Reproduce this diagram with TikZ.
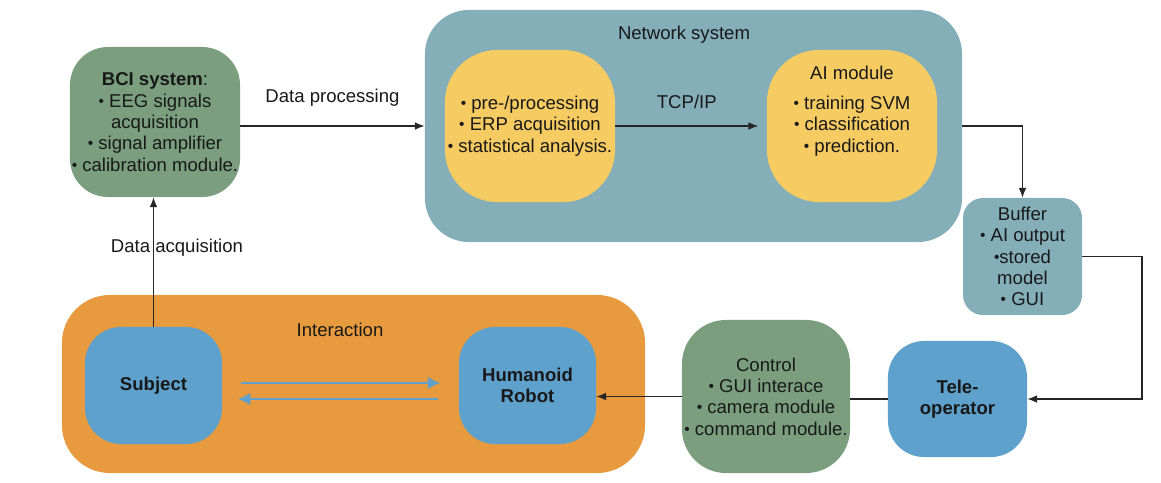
\documentclass[tikz,border=0pt]{standalone}
\usepackage{fontspec}
\setmainfont{Liberation Sans}
\usepackage{tikz}
\usetikzlibrary{positioning, calc, arrows.meta}
\definecolor{sagegreen}{RGB}{122,158,126}
\definecolor{slateteal}{RGB}{132,174,184}
\definecolor{mustard}{RGB}{245,203,98}
\definecolor{amber}{RGB}{232,154,63}
\definecolor{skyblue}{RGB}{95,161,205}
\newcommand{\itemdot}{\raisebox{.1ex}{\fontsize{11}{11}\selectfont\textbullet}}

\begin{document}
\begin{tikzpicture}[x=0.025cm, y=-0.025cm,
	every node/.style={font=\fontsize{13.2}{15.2}\selectfont, align=center, text=black!90},
	heavy/.style={font=\fontsize{13.2}{15.2}\selectfont\bfseries},
	box/.style={inner sep=0pt, rounded corners=1cm},
	link/.style={line width=0.9pt, black!85, -{Latex[length=7pt,width=5.5pt]}},
	wire/.style={line width=0.9pt, black!85},
	flow/.style={line width=2pt, skyblue, -{Latex[length=9pt,width=9pt]}}]
	\useasboundingbox (0,0) rectangle (1161,482);
	
	% network part
	\node[box, fill=slateteal, minimum width=13.425cm, minimum height=5.8cm, rounded corners=1.1cm] (net) at (693.5,126) {};
	\node (nettitle) at (684,35) {Network system};
	\node[box, fill=mustard, minimum width=4.25cm, minimum height=3.8cm, rounded corners=1.3cm] (prep) at (530,126) {\itemdot\ pre-/processing\\ \itemdot\ ERP acquisition\\ \itemdot\ statistical analysis.};
	\node[box, fill=mustard, minimum width=4.25cm, minimum height=3.8cm, rounded corners=1.3cm] (ai) at (852,126) {\itemdot\ training SVM\\ \itemdot\ classification\\ \itemdot\ prediction.};
	\node (aititle) at (852,73) {AI module};
	
	\node[box, fill=sagegreen, minimum width=4.25cm, minimum height=3.75cm, rounded corners=0.95cm] (bci) at (155,122) {\textbf{BCI system}:\\ \itemdot\ EEG signals\\ acquisition\\ \itemdot\ signal amplifier\\ \itemdot\ calibration module.};
	\node[box, fill=slateteal, minimum width=2.975cm, minimum height=2.925cm, rounded corners=0.5cm] (buffer) at (1022.5,256.5) {Buffer\\ \itemdot\ AI output\\ \itemdot stored\\ model\\ \itemdot\ GUI};
	
	% interaction part
	\node[box, fill=amber, minimum width=14.575cm, minimum height=4.45cm, rounded corners=1.2cm] (inter) at (353.5,384) {};
	\node (intertitle) at (340,330) {Interaction};
	\node[box, heavy, fill=skyblue, minimum width=3.425cm, minimum height=2.925cm, rounded corners=0.9cm] (subject) at (153.5,385.5) {Subject};
	\node[box, heavy, fill=skyblue, minimum width=3.425cm, minimum height=2.925cm, rounded corners=0.9cm] (robot) at (527.5,385.5) {Humanoid\\ Robot};
	\node[box, fill=sagegreen, minimum width=4.2cm, minimum height=3.825cm, rounded corners=1.1cm] (ctrl) at (766,396.5) {Control\\ \itemdot\ GUI interace\\ \itemdot\ camera module\\ \itemdot\ command module.};
	\node[box, heavy, fill=skyblue, minimum width=3.475cm, minimum height=2.9cm, rounded corners=0.9cm] (tele) at (957.5,399) {Tele-\\ operator};
	
	% connectors
	\draw[link] (bci.east |- net.west) -- (net.west) node[midway, yshift=20pt] (dplabel) {Data processing};
	\draw[link] (prep.east) -- ([xshift=-6pt]ai.west) node[midway, yshift=17pt] (tcplabel) {TCP/IP};
	\draw[link] (net.east |- ai) -| (buffer.north);
	\coordinate (bend) at (1142,0);
	\draw[link] (buffer.east) -- (buffer.east -| bend) |- (tele.east);
	\draw[wire] (tele.west) -- (ctrl.east |- tele.west);
	\draw[link] (ctrl.west) -- (robot.east |- ctrl.west);
	\draw[link] (subject.north) -- (subject.north |- bci.south);
	\node (dalabel) at (177,248) {Data acquisition};
	\draw[flow, shorten <=13pt, shorten >=13pt] ([yshift=1.8pt]subject.east) -- ([yshift=1.8pt]robot.west);
	\draw[flow, shorten <=15pt, shorten >=11pt] ([yshift=-9.6pt]robot.west) -- ([yshift=-9.6pt]subject.east);
\end{tikzpicture}
\end{document}
